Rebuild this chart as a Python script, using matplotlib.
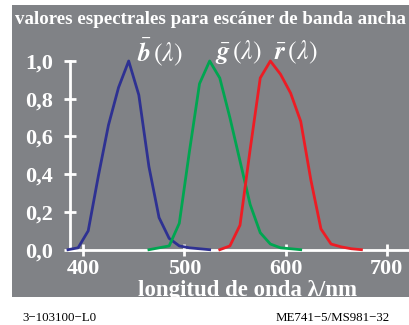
import numpy as np
import matplotlib.pyplot as plt
from matplotlib.patches import Rectangle

# spectral values
wl_b = [385, 395, 405, 415, 425, 435, 445, 455, 465, 475, 485, 495, 505, 515, 525]
val_b = [0.0, 0.01, 0.10, 0.39, 0.66, 0.86, 1.0, 0.82, 0.44, 0.17, 0.06, 0.02, 0.01, 0.005, 0.0]

wl_g = [465, 475, 485, 495, 505, 515, 525, 535, 545, 555, 565, 575, 585, 595, 605, 615]
val_g = [0.0, 0.01, 0.02, 0.14, 0.52, 0.88, 1.0, 0.91, 0.70, 0.47, 0.24, 0.09, 0.03, 0.01, 0.005, 0.0]

wl_r = [535, 545, 555, 565, 575, 585, 595, 605, 615, 625, 635, 645, 655, 665, 675]
val_r = [0.0, 0.02, 0.13, 0.53, 0.91, 1.0, 0.93, 0.83, 0.68, 0.37, 0.11, 0.03, 0.015, 0.005, 0.0]

xticks = [400, 500, 600, 700]
yticks = [0.0, 0.2, 0.4, 0.6, 0.8, 1.0]
ytick_labels = ['0,0', '0,2', '0,4', '0,6', '0,8', '1,0']

gray = '#808286'
W, H = 409, 325

plt.rcParams['mathtext.fontset'] = 'stix'
fig = plt.figure(figsize=(W/100, H/100), dpi=100)
fig.patch.set_facecolor('white')
fig.patches.append(Rectangle((12/W, (H-297)/H), 1-12/W, (297-5)/H,
                             transform=fig.transFigure, facecolor=gray,
                             edgecolor='none', zorder=-10))

ax = fig.add_axes([70/W, (H-249.7)/H, (W-70)/W, 188.7/H])
ax.set_facecolor('none')
ax.plot(wl_b, val_b, color='#2e3192', lw=2, clip_on=False)
ax.plot(wl_g, val_g, color='#00a651', lw=2, clip_on=False)
ax.plot(wl_r, val_r, color='#ed1c24', lw=2, clip_on=False)

ax.set_xlim(387, 722)
ax.set_ylim(0, 1)
for s in ['top', 'right']:
    ax.spines[s].set_visible(False)
for s in ['left', 'bottom']:
    ax.spines[s].set_color('white')
    ax.spines[s].set_linewidth(2)
    ax.spines[s].set_zorder(1)

ax.set_xticks(xticks)
ax.set_yticks(yticks)
ax.set_yticklabels(ytick_labels)
ax.tick_params(colors='white', direction='inout', length=8, width=2)
ax.tick_params(axis='y', pad=8)
ax.tick_params(axis='x', pad=3)
for lab in ax.get_xticklabels() + ax.get_yticklabels():
    lab.set_fontfamily('Liberation Serif')
    lab.set_fontweight('bold')
    lab.set_fontsize(16)
    lab.set_color('white')

fig.text(248/W, 1 - 296/H, 'longitud de onda λ/nm', family='Liberation Serif',
         fontweight='bold', fontsize=16.5, color='white', ha='center', va='baseline')

fig.text(0.5 + 6/W, 1 - 20/H, 'valores espectrales para escáner de banda ancha',
         family='Liberation Serif', fontweight='bold', fontsize=13.6,
         color='white', ha='center', va='center')

for lbl, xp in [(r'$\bar{\boldsymbol{b}}\,(\lambda)$', 137),
                (r'$\bar{\boldsymbol{g}}\,(\lambda)$', 215),
                (r'$\bar{\boldsymbol{r}}\,(\lambda)$', 274)]:
    fig.text(xp/W, 1 - 52/H, lbl, fontsize=18.5, color='white', ha='left', va='center')

fig.text(22/W, 1 - 318/H, '3−103100−L0', family='Liberation Serif', fontsize=9.3,
         ha='left', va='center')
fig.text(390/W, 1 - 318/H, 'ME741−5/MS981−32', family='Liberation Serif', fontsize=9.3,
         ha='right', va='center')

fig.savefig('out.png', dpi=100)
